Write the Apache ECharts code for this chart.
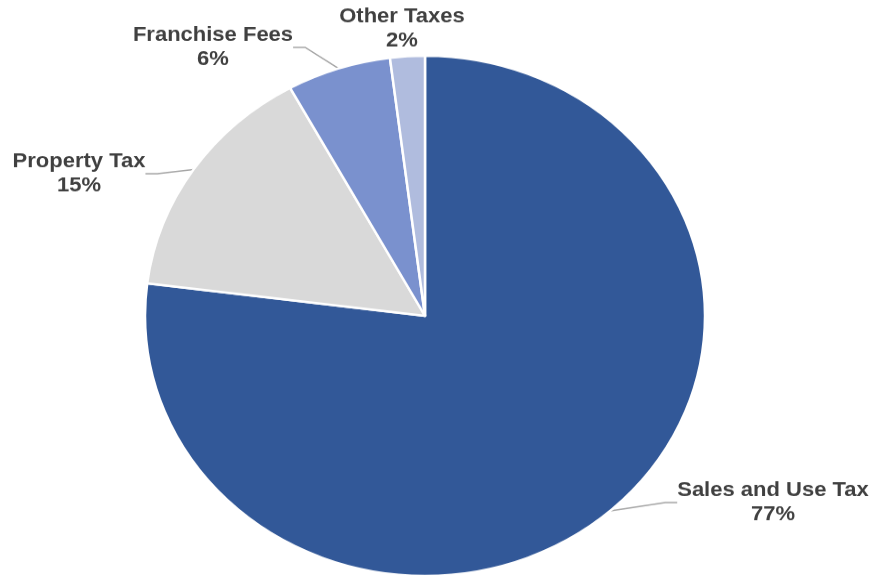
<!DOCTYPE html>
<html>
<head>
<meta charset="utf-8">
<script src="https://cdn.jsdelivr.net/npm/echarts@6/dist/echarts.min.js"></script>
<style>
  html, body { margin: 0; padding: 0; background: #fff; overflow: hidden; }
  #wrap { width: 877px; height: 575px; overflow: hidden; }
  /* the pie is drawn a little taller and flattened to an ellipse */
  #chart { width: 877px; height: 619px; transform: scale(1, 0.9289); transform-origin: 0 0; }
</style>
</head>
<body>
<div id="wrap"><div id="chart"></div></div>
<script>
// Revenue sources and their shares (percent)
const categories = ['Sales and Use Tax', 'Property Tax', 'Franchise Fees', 'Other Taxes'];
const shares = [77, 15, 6, 2];

const sliceColors = ['#325898', '#d9d9d9', '#7a91ce', '#b0bcde'];
const showLeader = [true, true, true, false];
// label block centres, in the chart's unflattened coordinates
const labelCenters = [[773, 541], [79, 187], [213, 51], [402, 31]];

const chart = echarts.init(document.getElementById('chart'), null, { renderer: 'canvas' });

const data = categories.map((name, i) => ({
  name: name,
  value: shares[i],
  itemStyle: { color: sliceColors[i] },
  labelLine: { show: showLeader[i] }
}));

chart.setOption({
  animation: false,
  series: [{
    type: 'pie',
    center: [425, 340],
    radius: 280,
    startAngle: 90,
    clockwise: true,
    avoidLabelOverlap: false,
    itemStyle: { borderColor: '#ffffff', borderWidth: 2.5 },
    label: {
      show: true,
      position: 'outside',
      fontFamily: 'Liberation Sans, Arial, sans-serif',
      fontWeight: 'bold',
      fontSize: 22,
      lineHeight: 26,
      color: '#404040',
      align: 'center',
      formatter: p => p.name + '\n' + Math.round(p.percent) + '%'
    },
    labelLine: {
      show: true,
      length: 30,
      length2: 12,
      lineStyle: { color: '#a6a6a6', width: 1.5 }
    },
    labelLayout: params => {
      const c = labelCenters[params.dataIndex];
      return { x: c[0], y: c[1], align: 'center', verticalAlign: 'middle' };
    },
    emphasis: { disabled: true },
    data: data
  }]
});
</script>
</body>
</html>
